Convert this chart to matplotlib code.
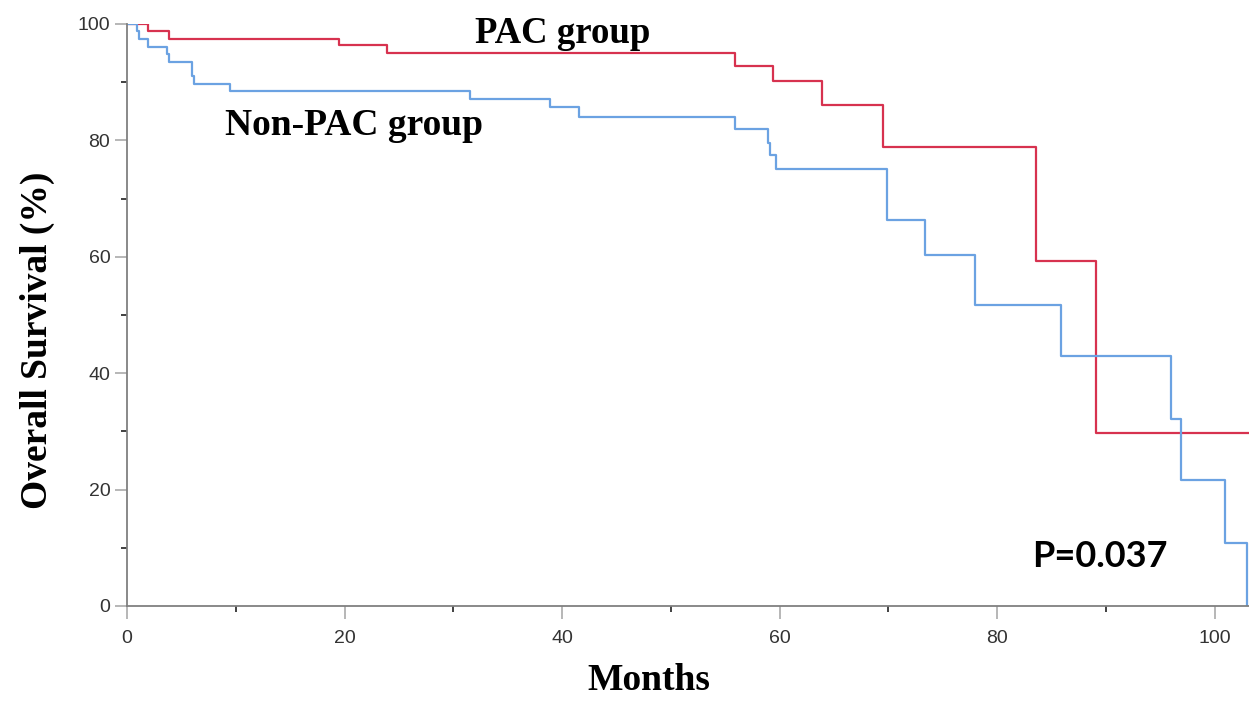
import numpy as np
import matplotlib
matplotlib.use('Agg')
from matplotlib import pyplot as plt
from matplotlib.ticker import MultipleLocator

# Kaplan-Meier steps (months, % surviving)
pac_months = [0, 1.9, 3.9, 19.5, 23.9, 55.9, 59.4, 63.9, 69.5, 83.6, 89.1, 103.2]
pac_surv = [100, 98.8, 97.5, 96.4, 95.1, 92.8, 90.2, 86.1, 78.9, 59.2, 29.7, 29.7]

nonpac_months = [0, 0.9, 1.1, 1.96, 3.65, 3.9, 6.0, 6.2, 9.5, 31.5, 38.9, 41.6,
                 55.9, 58.9, 59.1, 59.65, 69.9, 73.4, 78.0, 85.9, 96.0, 96.9,
                 100.9, 103.0]
nonpac_surv = [100, 98.8, 97.4, 96.1, 94.9, 93.5, 91.0, 89.7, 88.5, 87.1, 85.7, 84.1,
               81.9, 79.6, 77.5, 75.1, 66.3, 60.3, 51.7, 43.0, 32.2, 21.6,
               10.8, 0]

x_ticks = [0, 20, 40, 60, 80, 100]
y_ticks = [0, 20, 40, 60, 80, 100]

fig = plt.figure(figsize=(12.49, 7.06), dpi=100)
ax = fig.add_axes([127 / 1249, 1 - 606 / 706, 1 - 127 / 1249, (606 - 24) / 706])

ax.step(pac_months, pac_surv, where='post', color='#d7324f', lw=1.6)
ax.step(nonpac_months, nonpac_surv, where='post', color='#6ba2e2', lw=1.6)

ax.set_xlim(0, 103.15)
ax.set_ylim(0, 100)
ax.set_xticks(x_ticks)
ax.set_yticks(y_ticks)
ax.xaxis.set_minor_locator(MultipleLocator(10))
ax.yaxis.set_minor_locator(MultipleLocator(10))

for s in ['top', 'right']:
    ax.spines[s].set_visible(False)
for s in ['left', 'bottom']:
    ax.spines[s].set_color('#808080')
    ax.spines[s].set_linewidth(1.3)

tick_font = ['Liberation Sans Narrow', 'Liberation Sans', 'DejaVu Sans']
ax.tick_params(which='major', length=9, width=1.2, color='#aaaaaa',
               labelsize=14, labelcolor='#333333', pad=3)
ax.tick_params(axis='x', which='major', pad=8)
ax.tick_params(which='minor', length=4.5, width=1.3, color='#333333')
for lbl in ax.get_xticklabels() + ax.get_yticklabels():
    lbl.set_family(tick_font)

serif = ['Liberation Serif', 'DejaVu Serif']
ax.text(32.0, 96.7, 'PAC group', family=serif, weight='bold', fontsize=26.5,
        va='baseline', ha='left')
ax.text(9.0, 80.9, 'Non-PAC group', family=serif, weight='bold', fontsize=27,
        va='baseline', ha='left')
ax.text(83.2, 6.7, 'P=0.037', family=['Lato', 'DejaVu Sans'], weight='bold',
        fontsize=26, va='baseline', ha='left')

fig.text(649 / 1249, 1 - 690 / 706, 'Months', family=serif, weight='bold',
         fontsize=27, ha='center', va='baseline')
fig.text(37 / 1249, 1 - 340 / 706, 'Overall Survival (%)', family=serif,
         weight='bold', fontsize=27, rotation=90, ha='center', va='center')

fig.savefig('out.png', dpi=100)
